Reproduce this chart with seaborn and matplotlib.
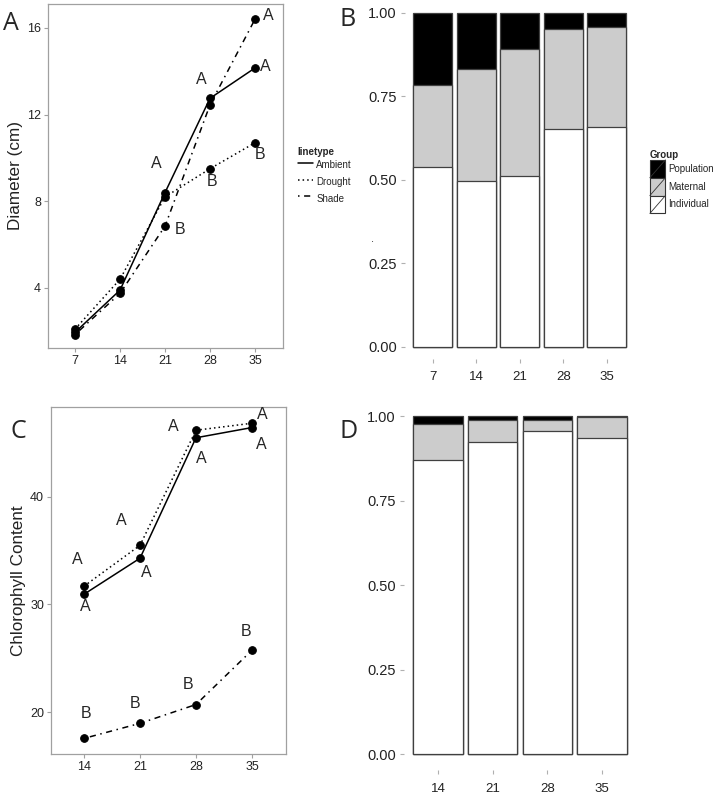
import pandas as pd
import seaborn as sns
import matplotlib.pyplot as plt
from matplotlib.lines import Line2D
from matplotlib.patches import Patch, Rectangle
from matplotlib.legend_handler import HandlerBase
from matplotlib.ticker import FormatStrFormatter

# Panel A - diameter
days_a = [7, 14, 21, 28, 35]
ambient_a = [1.95, 3.9, 8.4, 12.75, 14.15]
drought_a = [2.1, 4.4, 8.2, 9.5, 10.7]
shade_a = [1.85, 3.75, 6.85, 12.45, 16.4]
letters_a = ['A', 'A', 'A', 'A', 'B', 'B', 'B']
letters_a_x = [37.0, 36.6, 26.7, 19.7, 23.3, 28.3, 35.8]
letters_a_y = [16.55, 14.2, 13.6, 9.75, 6.7, 8.9, 10.15]

# Panel C - chlorophyll
days_c = [14, 21, 28, 35]
ambient_c = [30.95, 34.3, 45.5, 46.45]
drought_c = [31.7, 35.5, 46.2, 46.85]
shade_c = [17.55, 18.95, 20.7, 25.75]
letters_c = ['A', 'A', 'A', 'A', 'A', 'A', 'A', 'A', 'B', 'B', 'B', 'B']
letters_c_x = [13.2, 14.2, 18.6, 21.75, 25.2, 28.6, 36.3, 36.1, 14.2, 20.4, 27.0, 34.25]
letters_c_y = [34.2, 29.8, 37.8, 33.0, 46.55, 43.55, 47.7, 44.85, 19.9, 20.8, 22.6, 27.45]

# Panel B / D - variance partition
groups = ['Population', 'Maternal', 'Individual']
days_b = ['7', '14', '21', '28', '35']
indiv_b = [0.537, 0.497, 0.512, 0.652, 0.657]
matern_b = [0.246, 0.336, 0.379, 0.298, 0.299]
popul_b = [0.217, 0.167, 0.109, 0.050, 0.044]
days_d = ['14', '21', '28', '35']
indiv_d = [0.870, 0.922, 0.955, 0.934]
matern_d = [0.108, 0.066, 0.035, 0.064]
popul_d = [0.022, 0.012, 0.010, 0.002]

treatments = ['Ambient', 'Drought', 'Shade']
dash_map = {'Ambient': '', 'Drought': (1, 2), 'Shade': (1, 3, 4, 3)}
marker_map = {'Ambient': 'o', 'Drought': 'o', 'Shade': 'o'}
fill_map = {'Population': 'black', 'Maternal': '#cccccc', 'Individual': 'white'}

sns.set_style('ticks')
plt.rcParams['font.family'] = ['Liberation Sans', 'DejaVu Sans']

fig = plt.figure(figsize=(7.13, 7.96), dpi=100)
W, H = 713, 796


def box(x0, y0, x1, y1):
    return [x0 / W, 1 - y1 / H, (x1 - x0) / W, (y1 - y0) / H]


def line_panel(ax, days, amb, dro, sha, letters, lx, ly):
    n = len(days)
    df = pd.DataFrame({
        'day': days * 3,
        'value': amb + dro + sha,
        'linetype': ['Ambient'] * n + ['Drought'] * n + ['Shade'] * n,
    })
    sns.lineplot(data=df, x='day', y='value', style='linetype', dashes=dash_map,
                 markers=marker_map, color='black', linewidth=1.1, markersize=5.5,
                 markeredgecolor='black', legend=False, ax=ax)
    for t, x, y in zip(letters, lx, ly):
        ax.text(x, y, t, fontsize=11.5, ha='center', va='center')
    for s in ax.spines.values():
        s.set_visible(True)
        s.set_color('#a0a0a0')
        s.set_linewidth(0.9)
    ax.set_xticks(days)
    ax.set_xlabel('')
    ax.tick_params(length=3, color='#a0a0a0', labelcolor='#222222', pad=2, labelsize=9)


def bar_panel(ax, days, ind, mat, pop):
    mid = [a + b for a, b in zip(ind, mat)]
    top = [a + b for a, b in zip(mid, pop)]
    for vals, g in [(top, 'Population'), (mid, 'Maternal'), (ind, 'Individual')]:
        sns.barplot(x=days, y=vals, order=days, color=fill_map[g], saturation=1,
                    width=0.9, edgecolor='#404040', linewidth=0.9, ax=ax)
    sns.despine(ax=ax, left=True, bottom=True)
    ax.set_yticks([0, 0.25, 0.5, 0.75, 1.0])
    ax.yaxis.set_major_formatter(FormatStrFormatter('%.2f'))
    ax.set_xlabel('')
    ax.set_ylabel('')
    ax.tick_params(length=3, color='#b0b0b0', labelcolor='#222222', pad=3)
    ax.tick_params(axis='y', labelsize=10.5)
    ax.tick_params(axis='x', labelsize=9.5, pad=6)


# A
axA = fig.add_axes(box(48, 4, 283, 348))
line_panel(axA, days_a, ambient_a, drought_a, shade_a, letters_a, letters_a_x, letters_a_y)
axA.set_xlim(2.8, 39.35)
axA.set_ylim(1.23, 17.1)
axA.set_yticks([4, 8, 12, 16])
axA.set_ylabel('Diameter (cm)', fontsize=12.3, color='#222222')
axA.yaxis.set_label_coords(-0.105, 0.5)

legA = [Line2D([], [], color='black', linewidth=1.1,
               linestyle='-' if dash_map[t] == '' else (0, dash_map[t])) for t in treatments]
leg = fig.legend(legA, treatments, title='linetype', loc='upper left',
                 bbox_to_anchor=(293 / W, 1 - 142 / H), frameon=False, fontsize=7,
                 title_fontsize=7, handlelength=1.6, handleheight=2.3, labelspacing=0,
                 handletextpad=0.3, borderpad=0, alignment='left')
leg.get_title().set_fontweight('bold')

# B
axB = fig.add_axes(box(405, 4, 633, 359))
bar_panel(axB, days_b, indiv_b, matern_b, popul_b)
axB.set_xlim(-0.64, 4.6)
axB.set_ylim(-0.036, 1.026)


class SlashBox(HandlerBase):
    def create_artists(self, legend, orig, xd, yd, w, h, fs, trans):
        r = Rectangle((-xd, -yd), w, h, facecolor=orig.get_facecolor(),
                      edgecolor='#333333', linewidth=0.8, transform=trans)
        ln = Line2D([-xd, -xd + w], [-yd, -yd + h], color='#333333',
                    linewidth=0.6, transform=trans)
        return [r, ln]


legB = [Patch(facecolor=fill_map[g]) for g in groups]
leg2 = fig.legend(legB, groups, title='Group', loc='upper left',
                  bbox_to_anchor=(645 / W, 1 - 145 / H), frameon=False, fontsize=7,
                  title_fontsize=7, handlelength=1.6, handleheight=2.45, labelspacing=0,
                  handletextpad=0.25, borderpad=0, alignment='left',
                  handler_map={Patch: SlashBox()})
leg2.get_title().set_fontweight('bold')
fig.text(372 / W, 1 - 239 / H, '.', fontsize=8, ha='center', va='center')

# C
axC = fig.add_axes(box(51, 407, 286, 754))
line_panel(axC, days_c, ambient_c, drought_c, shade_c, letters_c, letters_c_x, letters_c_y)
axC.set_xlim(9.875, 39.25)
axC.set_ylim(16.1, 48.36)
axC.set_yticks([20, 30, 40])
axC.set_ylabel('Chlorophyll Content', fontsize=12.3, color='#222222')
axC.yaxis.set_label_coords(-0.105, 0.5)

# D
axD = fig.add_axes(box(404, 407, 636, 770))
bar_panel(axD, days_d, indiv_d, matern_d, popul_d)
axD.set_xlim(-0.62, 3.62)
axD.set_ylim(-0.047, 1.027)

# panel letters
for t, x, y in [('A', 11, 23), ('B', 348, 20), ('C', 18, 432), ('D', 349, 432)]:
    fig.text(x / W, 1 - y / H, t, fontsize=18, ha='center', va='center',
             family=['Open Sans', 'DejaVu Sans'])

fig.savefig('out.png', dpi=100)
